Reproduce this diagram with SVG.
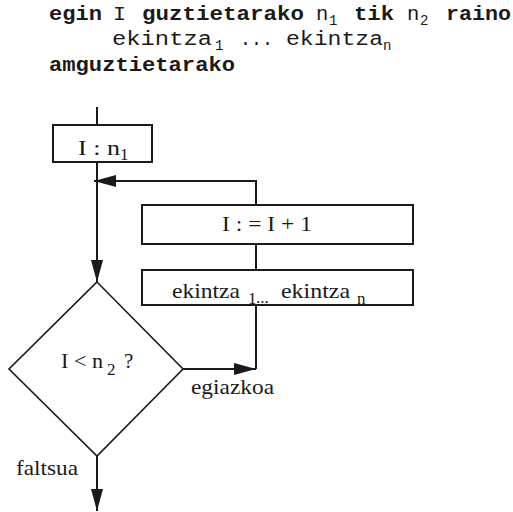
<svg xmlns="http://www.w3.org/2000/svg" width="513" height="512" viewBox="0 0 513 512">
  <style>
    .code { font-family: "Liberation Mono", "Courier New", monospace; font-size: 20.5px; fill: #1a1a1a; }
    .kw { font-weight: bold; }
    .sub { font-size: 14px; }
    .lbl { font-family: "Liberation Serif", "Times New Roman", serif; font-size: 21px; fill: #1a1a1a; }
    .lsub { font-size: 17px; }
    .box { fill: none; stroke: #1a1a1a; stroke-width: 2; }
    .dia { fill: none; stroke: #1a1a1a; stroke-width: 1.6; }
    .wire { fill: none; stroke: #1a1a1a; stroke-width: 2; }
  </style>
  <defs>
    <marker id="arrow" viewBox="0 0 22 12" refX="22" refY="6" markerWidth="22" markerHeight="12" markerUnits="userSpaceOnUse" orient="auto">
      <path d="M0,0 L22,6 L0,12 Z" fill="#1a1a1a"/>
    </marker>
  </defs>
  <rect width="513" height="512" fill="#ffffff"/>

  <!-- pseudocode header -->
  <g id="code">
    <text class="code kw" x="49" y="20" textLength="53" lengthAdjust="spacingAndGlyphs">egin</text>
    <text class="code" x="113" y="20" textLength="13" lengthAdjust="spacingAndGlyphs">I</text>
    <text class="code kw" x="142" y="20" textLength="162" lengthAdjust="spacingAndGlyphs">guztietarako</text>
    <text class="code" x="316" y="20">n</text>
    <text class="code sub" x="329" y="25">1</text>
    <text class="code kw" x="354" y="20" textLength="40" lengthAdjust="spacingAndGlyphs">tik</text>
    <text class="code" x="407" y="20">n</text>
    <text class="code sub" x="420" y="25">2</text>
    <text class="code kw" x="446" y="20" textLength="65" lengthAdjust="spacingAndGlyphs">raino</text>

    <text class="code" x="112" y="45" textLength="100" lengthAdjust="spacingAndGlyphs">ekintza</text>
    <text class="code sub" x="215" y="50">1</text>
    <text class="code" x="240" y="45" textLength="33" lengthAdjust="spacingAndGlyphs">...</text>
    <text class="code" x="286" y="45" textLength="97" lengthAdjust="spacingAndGlyphs">ekintza</text>
    <text class="code sub" x="383" y="50">n</text>

    <text class="code kw" x="49" y="71" textLength="186" lengthAdjust="spacingAndGlyphs">amguztietarako</text>
  </g>

  <!-- connectors -->
  <g id="connectors">
    <line class="wire" x1="97" y1="107" x2="97" y2="125"/>
    <line class="wire" x1="97" y1="162" x2="97" y2="282" marker-end="url(#arrow)"/>
    <polyline class="wire" points="256,205 256,181 94,181" marker-end="url(#arrow)"/>
    <line class="wire" x1="256" y1="244" x2="256" y2="270"/>
    <line class="wire" x1="256" y1="305" x2="256" y2="369"/>
    <line class="wire" x1="183" y1="369" x2="256" y2="369" marker-end="url(#arrow)"/>
    <line class="wire" x1="97" y1="456" x2="97" y2="511" marker-end="url(#arrow)"/>
  </g>

  <!-- initialisation -->
  <g id="init">
    <rect class="box" x="53" y="125" width="99" height="37"/>
    <text class="lbl" x="78" y="155" textLength="42" lengthAdjust="spacingAndGlyphs">I : n</text>
    <text class="lbl lsub" x="120" y="160">1</text>
  </g>

  <!-- increment -->
  <g id="increment">
    <rect class="box" x="142" y="205" width="271" height="39"/>
    <text class="lbl" x="222" y="231" textLength="90" lengthAdjust="spacingAndGlyphs">I : = I + 1</text>
  </g>

  <!-- loop body -->
  <g id="body">
    <rect class="box" x="142" y="270" width="271" height="35"/>
    <text class="lbl" x="172" y="298" textLength="68" lengthAdjust="spacingAndGlyphs">ekintza</text>
    <text class="lbl lsub" x="248" y="304">1</text>
    <text class="lbl lsub" x="256" y="303">...</text>
    <text class="lbl" x="281" y="298" textLength="69" lengthAdjust="spacingAndGlyphs">ekintza</text>
    <text class="lbl lsub" x="357" y="304">n</text>
  </g>

  <!-- loop test -->
  <g id="test">
    <polygon class="dia" points="97,282 183,369 97,456 9,369"/>
    <text class="lbl" x="61" y="368" textLength="42" lengthAdjust="spacingAndGlyphs">I &lt; n</text>
    <text class="lbl lsub" x="107" y="375">2</text>
    <text class="lbl" x="124" y="368">?</text>
  </g>

  <g id="labels">
    <text class="lbl" x="191" y="394" textLength="83" lengthAdjust="spacingAndGlyphs">egiazkoa</text>
    <text class="lbl" x="16" y="475" textLength="62" lengthAdjust="spacingAndGlyphs">faltsua</text>
  </g>
</svg>
